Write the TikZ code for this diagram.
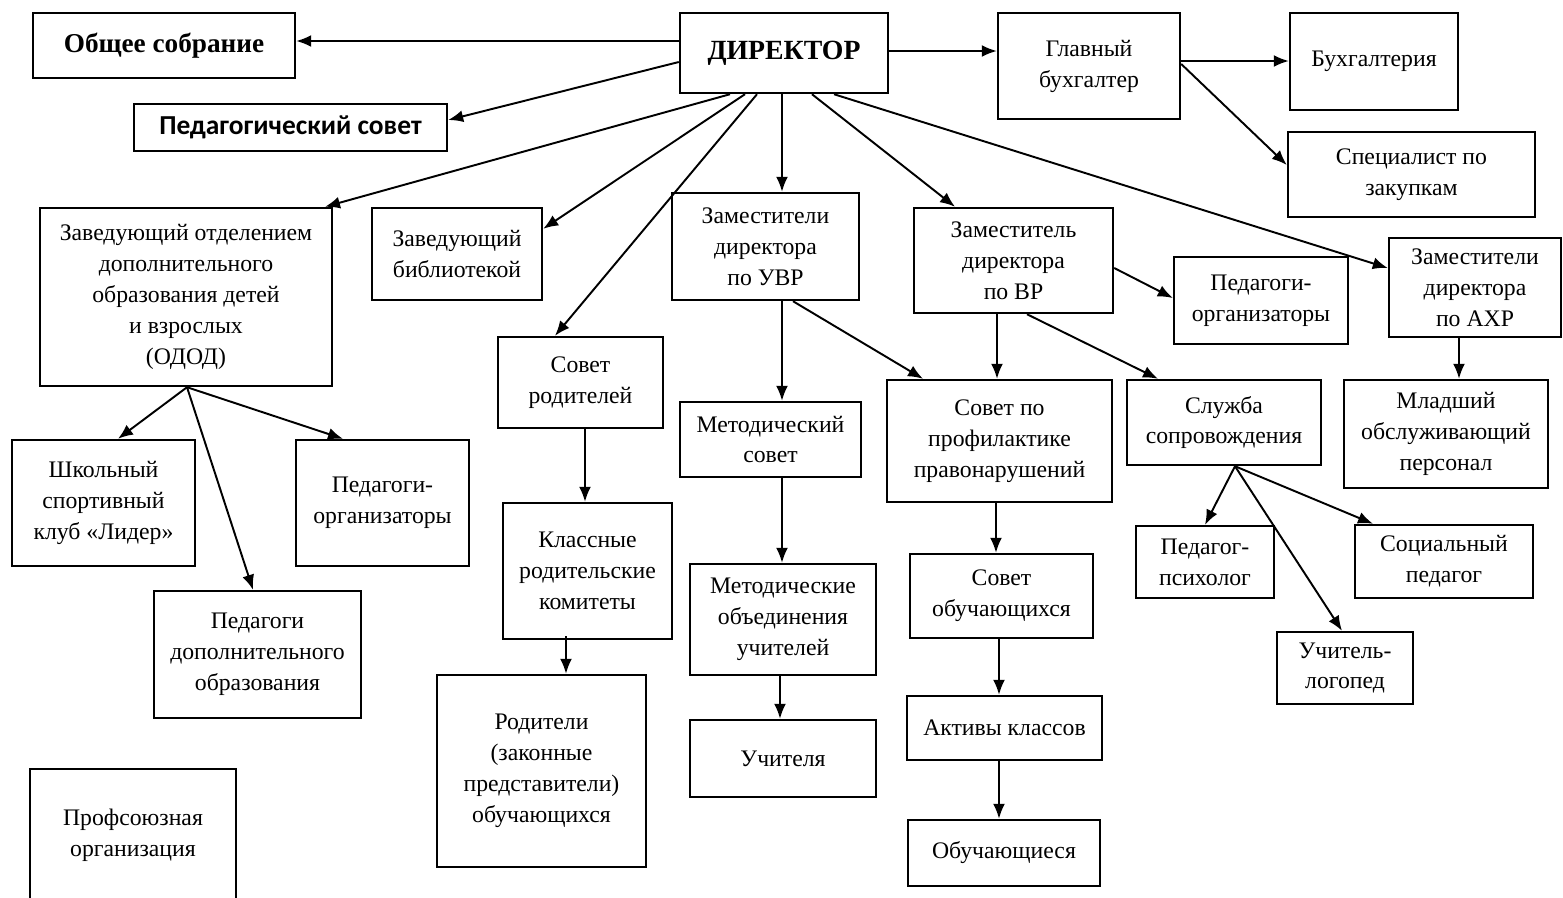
\documentclass[tikz,border=0pt]{standalone}
\usepackage{fontspec}
\setmainfont{Liberation Serif}[BoldFont={Liberation Serif Bold}]
\newfontfamily\calfont{Carlito}[BoldFont={Carlito Bold}]
\usetikzlibrary{arrows.meta,calc}
\tikzset{
  >=Latex,
  unit/.style={draw=black,line width=1.4pt,fill=white,align=center,text=black,font=\fontsize{13.5}{17.6}\selectfont,inner sep=2pt},
  chief/.style={unit,font=\fontsize{15.8}{18}\selectfont\bfseries},
  council/.style={unit,font=\fontsize{15.5}{18}\selectfont\bfseries},
  councilsans/.style={unit,font=\calfont\fontsize{15.6}{18}\selectfont\bfseries},
  link/.style={-{Latex[length=3mm,width=2.4mm]},line width=1.1pt,draw=black}
}
\begin{document}
\begin{tikzpicture}[x=0.02cm,y=-0.02cm]
  \useasboundingbox (0,0) rectangle (1563,897);
  \node[chief,minimum width=4.16cm,minimum height=1.60cm] (dir) at (784,53) {ДИРЕКТОР};
  \node[council,minimum width=5.24cm,minimum height=1.30cm] (obsh) at (164,45.5) {Общее собрание};
  \node[councilsans,minimum width=6.26cm,minimum height=0.94cm] (pedsov) at (290.5,127.5) {Педагогический совет};
  \node[unit,minimum width=3.64cm,minimum height=2.12cm] (glbuh) at (1089,66) {Главный\\бухгалтер};
  \node[unit,minimum width=3.36cm,minimum height=1.94cm] (buh) at (1374,61.5) {Бухгалтерия};
  \node[unit,minimum width=4.94cm,minimum height=1.70cm] (zakup) at (1411.5,174.5) {Специалист по\\закупкам};
  \node[unit,minimum width=5.84cm,minimum height=3.56cm] (odod) at (186,297) {Заведующий отделением\\дополнительного\\образования детей\\и взрослых\\(ОДОД)};
  \node[unit,minimum width=3.40cm,minimum height=1.84cm] (bibl) at (457,254) {Заведующий\\библиотекой};
  \node[unit,minimum width=3.74cm,minimum height=2.14cm] (uvr) at (765.5,246.5) {Заместители\\директора\\по УВР};
  \node[unit,minimum width=3.98cm,minimum height=2.10cm] (vr) at (1013.5,260.5) {Заместитель\\директора\\по ВР};
  \node[unit,minimum width=3.48cm,minimum height=1.74cm] (orgvr) at (1261,300.5) {Педагоги-\\организаторы};
  \node[unit,minimum width=3.44cm,minimum height=1.98cm] (ahr) at (1475,287.5) {Заместители\\директора\\по АХР};
  \node[unit,minimum width=3.30cm,minimum height=1.82cm] (sovrod) at (580.5,382.5) {Совет\\родителей};
  \node[unit,minimum width=3.62cm,minimum height=1.50cm] (metsov) at (770.5,439.5) {Методический\\совет};
  \node[unit,minimum width=4.50cm,minimum height=2.44cm] (prof) at (999.5,441) {Совет по\\профилактике\\правонарушений};
  \node[unit,minimum width=3.88cm,minimum height=1.70cm] (sopr) at (1224,422.5) {Служба\\сопровождения};
  \node[unit,minimum width=4.08cm,minimum height=2.16cm] (mlad) at (1446,434) {Младший\\обслуживающий\\персонал};
  \node[unit,minimum width=3.66cm,minimum height=2.52cm] (klub) at (103.5,503) {Школьный\\спортивный\\клуб «Лидер»};
  \node[unit,minimum width=3.46cm,minimum height=2.52cm] (orgodod) at (382.5,503) {Педагоги-\\организаторы};
  \node[unit,minimum width=4.14cm,minimum height=2.54cm] (peddo) at (257.5,654.5) {Педагоги\\дополнительного\\образования};
  \node[unit,minimum width=3.38cm,minimum height=2.72cm] (klrod) at (587.5,571) {Классные\\родительские\\комитеты};
  \node[unit,minimum width=3.72cm,minimum height=2.22cm] (mo) at (783,619.5) {Методические\\объединения\\учителей};
  \node[unit,minimum width=3.66cm,minimum height=1.68cm] (sovob) at (1001.5,596) {Совет\\обучающихся};
  \node[unit,minimum width=2.76cm,minimum height=1.44cm] (psih) at (1205,562) {Педагог-\\психолог};
  \node[unit,minimum width=3.56cm,minimum height=1.46cm] (socped) at (1444,561.5) {Социальный\\педагог};
  \node[unit,minimum width=2.72cm,minimum height=1.44cm] (logo) at (1345,668) {Учитель-\\логопед};
  \node[unit,minimum width=4.18cm,minimum height=3.84cm] (rod) at (541.5,771) {Родители\\(законные\\представители)\\обучающихся};
  \node[unit,minimum width=3.72cm,minimum height=1.54cm] (uchit) at (783,758.5) {Учителя};
  \node[unit,minimum width=3.90cm,minimum height=1.28cm] (aktiv) at (1004.5,728) {Активы классов};
  \node[unit,minimum width=3.84cm,minimum height=1.32cm] (obuch) at (1004,853) {Обучающиеся};
  \node[unit,minimum width=4.12cm,minimum height=2.64cm] (profs) at (133,835) {Профсоюзная\\организация};

  \draw[link] ($(dir.west)+(0,-12)$) -- ($(obsh.east)+(0,-4.5)$);
  \draw[link] ($(dir.west)+(0,9)$) -- ($(pedsov.east)+(0,-7.5)$);
  \draw[link] ($(dir.east)+(0,-2)$) -- ($(glbuh.west)+(0,-15)$);
  \draw[link] ($(glbuh.east)+(0,-5)$) -- ($(buh.west)+(0,-0.5)$);
  \draw[link] ($(glbuh.east)+(0,-2)$) -- ($(zakup.west)+(0,-9.5)$);
  \foreach \a/\b/\c/\d in {-54/odod.north/139/0, -39/bibl.north east/0/22, -27/sovrod.north/-25.5/0,
    -2/uvr.north/16.5/0, 28/vr.north/-58.5/0, 50/ahr.west/0/-19.5}{
    \draw[link] ($(dir.south)+(\a,0)$) -- ($(\b)+(\c,\d)$);
  }
  \draw[link] ($(vr.east)+(0,7.5)$) -- ($(orgvr.west)+(0,-2.5)$);
  \draw[link] ($(vr.south)+(-16.5,0)$) -- ($(prof.north)+(-2.5,0)$);
  \draw[link] ($(vr.south)+(13.5,0)$) -- ($(sopr.north)+(-66,0)$);
  \draw[link] ($(uvr.south)+(16.5,0)$) -- ($(metsov.north)+(11.5,0)$);
  \draw[link] ($(uvr.south)+(27.5,0)$) -- ($(prof.north)+(-76.5,0)$);
  \draw[link] ($(ahr.south)+(-16,0)$) -- ($(mlad.north)+(13,0)$);
  \draw[link] ($(sovrod.south)+(4.5,0)$) -- ($(klrod.north)+(-2.5,0)$);
  \draw[link] ($(klrod.south)+(-21.5,-4)$) -- ($(rod.north)+(24.5,0)$);
  \draw[link] ($(metsov.south)+(11.5,0)$) -- ($(mo.north)+(-1,0)$);
  \draw[link] ($(mo.south)+(-3,0)$) -- ($(uchit.north)+(-3,0)$);
  \draw[link] ($(prof.south)+(-3.5,0)$) -- ($(sovob.north)+(-5.5,0)$);
  \draw[link] ($(sovob.south)+(-2.5,0)$) -- ($(aktiv.north)+(-5.5,0)$);
  \draw[link] ($(aktiv.south)+(-5.5,0)$) -- ($(obuch.north)+(-5,0)$);
  \foreach \b/\c in {klub/14.5, peddo/-4.5, orgodod/-39.5}{
    \draw[link] ($(odod.south)+(1,0)$) -- ($(\b.north)+(\c,0)$);
  }
  \foreach \b/\c in {psih/0, logo/-3, socped/-71}{
    \draw[link] ($(sopr.south)+(11,0)$) -- ($(\b.north)+(\c,0)$);
  }
\end{tikzpicture}
\end{document}
